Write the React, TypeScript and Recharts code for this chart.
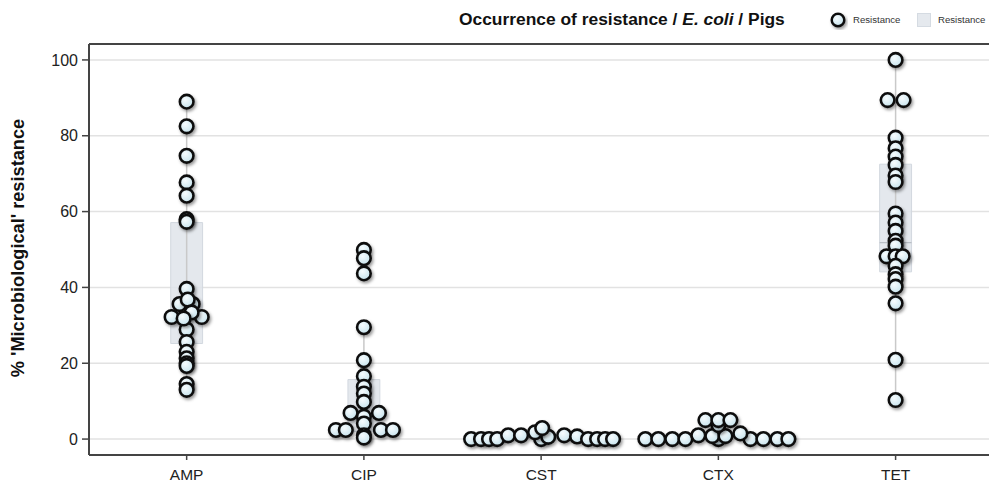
import { ScatterChart, Scatter, XAxis, YAxis, CartesianGrid, ReferenceArea, ReferenceLine } from "recharts";

// categories on the x axis
const categories = ["AMP", "CIP", "CST", "CTX", "TET"];

// each point: [horizontal jitter in category units, % resistance]
const ampPoints: [number, number][] = [
  [0, 89], [0, 82.5], [0, 74.7], [0, 67.7], [0, 64.2], [0, 58], [0, 57.3], [0, 39.6],
  [0, 28.9], [0, 25.6], [0, 23], [0, 21.3], [0, 20], [0, 19.3], [0, 14.5], [0, 13],
  [-0.04, 35.6], [0.034, 35.6], [0.006, 36.8], [-0.085, 32.2], [0.085, 32.2], [0.028, 33.4], [-0.017, 31.8],
];
const cipPoints: [number, number][] = [
  [0, 49.9], [0, 47.7], [0, 43.7], [0, 29.5], [0, 20.8], [0, 16.6], [0, 13.8], [0, 12], [0, 9.8],
  [-0.075, 6.9], [0.085, 6.9], [0, 5.9], [0, 4.1],
  [-0.158, 2.4], [-0.102, 2.4], [0.096, 2.4], [0.164, 2.4], [0, 1], [0, 0.4],
];
const cstPoints: [number, number][] = [
  [-0.395, 0], [-0.339, 0], [-0.294, 0], [-0.248, 0], [-0.186, 1], [-0.113, 1], [0, 0], [0.04, 0.6],
  [0.13, 1], [0.203, 0.7], [0.265, 0], [0.316, 0], [0.361, 0], [0.406, 0], [-0.034, 1.8], [0.006, 2.9],
];
const ctxPoints: [number, number][] = [
  [-0.412, 0], [-0.339, 0], [-0.26, 0], [-0.186, 0], [0.181, 0], [0.254, 0], [0.333, 0], [0.395, 0],
  [0, 0], [-0.113, 1], [-0.034, 0.8], [0.04, 0.8], [0.124, 1.5],
  [0, 3.7], [-0.073, 5], [0, 5], [0.068, 5],
];
const tetPoints: [number, number][] = [
  [0, 100], [-0.045, 89.4], [0.045, 89.4], [0, 79.5], [0, 76.7], [0, 74.5], [0, 72.3], [0, 69.5],
  [0, 67.8], [0, 59.5], [0, 57.1], [0, 54.9], [0, 52.3], [0, 51], [-0.051, 48.2], [0, 48.2],
  [0.04, 48.2], [0, 45.7], [0, 43.5], [0, 42.2], [0, 40.2], [0, 35.8], [0, 20.9], [0, 10.3],
];

// box summaries per category (null = no box drawn)
const boxQ1 = [25.2, 2, null, null, 44.1];
const boxQ3 = [57.1, 15.7, null, null, 72.5];
const boxMedian = [33, 6, null, null, 51.8];
const whiskerMin = [13, 0.4, null, null, 10.3];
const whiskerMax = [89, 29.5, null, null, 100];

const yTicks = [0, 20, 40, 60, 80, 100];

const FONT = "'Liberation Sans', Arial, Helvetica, sans-serif";
const X_DOMAIN: [number, number] = [0.449, 5.527];
const Y_DOMAIN: [number, number] = [-4.2, 104.2];
const BOX_HALF = 0.09;

const seriesList = [ampPoints, cipPoints, cstPoints, ctxPoints, tetPoints];
const points = seriesList.flatMap((pts, i) => pts.map(([dx, v]) => ({ x: i + 1 + dx, y: v })));

const Dot = (props: any) => {
  const { cx, cy } = props;
  if (cx == null || cy == null) return null;
  return (
    <circle cx={cx} cy={cy} r={6.8} fill="url(#ptFill)" stroke="#111" strokeWidth={2.6} filter="url(#ptShadow)" />
  );
};

export default function App() {
  return (
    <div style={{ position: "absolute", left: 0, top: 0, width: 989, height: 487, background: "#fff", fontFamily: FONT }}>
      <svg width={0} height={0} style={{ position: "absolute" }}>
        <defs>
          <radialGradient id="ptFill" cx="40%" cy="35%" r="70%">
            <stop offset="0%" stopColor="#f7fcfe" />
            <stop offset="100%" stopColor="#c4e2ec" />
          </radialGradient>
          <filter id="ptShadow" x="-50%" y="-50%" width="200%" height="200%">
            <feDropShadow dx={1.5} dy={2} stdDeviation={1.4} floodColor="#000" floodOpacity={0.4} />
          </filter>
        </defs>
      </svg>

      <div style={{ position: "absolute", left: 459, top: 9, fontSize: 17.4, fontWeight: "bold", color: "#111", whiteSpace: "nowrap" }}>
        Occurrence of resistance / <i>E. coli</i> / Pigs
      </div>
      <svg width={20} height={20} style={{ position: "absolute", left: 828, top: 10 }}>
        <circle cx={10} cy={10} r={6.3} fill="url(#ptFill)" stroke="#111" strokeWidth={2.5} filter="url(#ptShadow)" />
      </svg>
      <div style={{ position: "absolute", left: 853, top: 14, fontSize: 9.6, color: "#333", whiteSpace: "nowrap" }}>Resistance</div>
      <div style={{ position: "absolute", left: 917, top: 13, width: 14, height: 14, background: "#e5e9ee", border: "1px solid #d5dbe2", boxSizing: "border-box" }} />
      <div style={{ position: "absolute", left: 938, top: 14, fontSize: 9.6, color: "#333", whiteSpace: "nowrap" }}>Resistance</div>

      <div
        style={{
          position: "absolute", left: 18, top: 248, transform: "translate(-50%, -50%) rotate(-90deg)",
          fontSize: 18.2, fontWeight: "bold", color: "#111", whiteSpace: "nowrap",
        }}
      >
        % 'Microbiological' resistance
      </div>

      <ScatterChart width={989} height={487} margin={{ top: 44, right: 0, bottom: 0, left: 0 }}>
        <CartesianGrid vertical={false} stroke="#e2e2e2" strokeWidth={1.5} />
        <XAxis
          type="number"
          dataKey="x"
          domain={X_DOMAIN}
          allowDataOverflow
          ticks={[1, 2, 3, 4, 5]}
          tickFormatter={(v: number) => categories[v - 1]}
          height={32}
          tickSize={5}
          tickMargin={9}
          axisLine={{ stroke: "#444", strokeWidth: 2 }}
          tickLine={{ stroke: "#444", strokeWidth: 1.5 }}
          tick={{ fill: "#222", fontSize: 15.5, fontFamily: FONT }}
        />
        <YAxis
          type="number"
          dataKey="y"
          domain={Y_DOMAIN}
          allowDataOverflow
          ticks={yTicks}
          width={89}
          tickSize={7}
          tickMargin={4}
          axisLine={{ stroke: "#444", strokeWidth: 2 }}
          tickLine={{ stroke: "#444", strokeWidth: 1.5 }}
          tick={{ fill: "#222", fontSize: 16, fontFamily: FONT }}
        />
        <ReferenceLine y={Y_DOMAIN[1]} stroke="#444" strokeWidth={2} ifOverflow="visible" />
        {categories.map((c, i) =>
          whiskerMin[i] != null ? (
            <ReferenceLine
              key={"w" + c}
              segment={[{ x: i + 1, y: whiskerMin[i] as number }, { x: i + 1, y: whiskerMax[i] as number }]}
              stroke="#c9c9c9"
              strokeWidth={1.5}
            />
          ) : null
        )}
        {categories.map((c, i) =>
          boxQ1[i] != null ? (
            <ReferenceArea
              key={"b" + c}
              x1={i + 1 - BOX_HALF}
              x2={i + 1 + BOX_HALF}
              y1={boxQ1[i] as number}
              y2={boxQ3[i] as number}
              fill="#dfe4ea"
              fillOpacity={0.85}
              stroke="#d2d8df"
              strokeWidth={1}
            />
          ) : null
        )}
        {categories.map((c, i) =>
          boxMedian[i] != null ? (
            <ReferenceLine
              key={"m" + c}
              segment={[{ x: i + 1 - BOX_HALF, y: boxMedian[i] as number }, { x: i + 1 + BOX_HALF, y: boxMedian[i] as number }]}
              stroke="#b9bec5"
              strokeWidth={1.2}
            />
          ) : null
        )}
        <Scatter data={points} shape={Dot} isAnimationActive={false} />
      </ScatterChart>
    </div>
  );
}
